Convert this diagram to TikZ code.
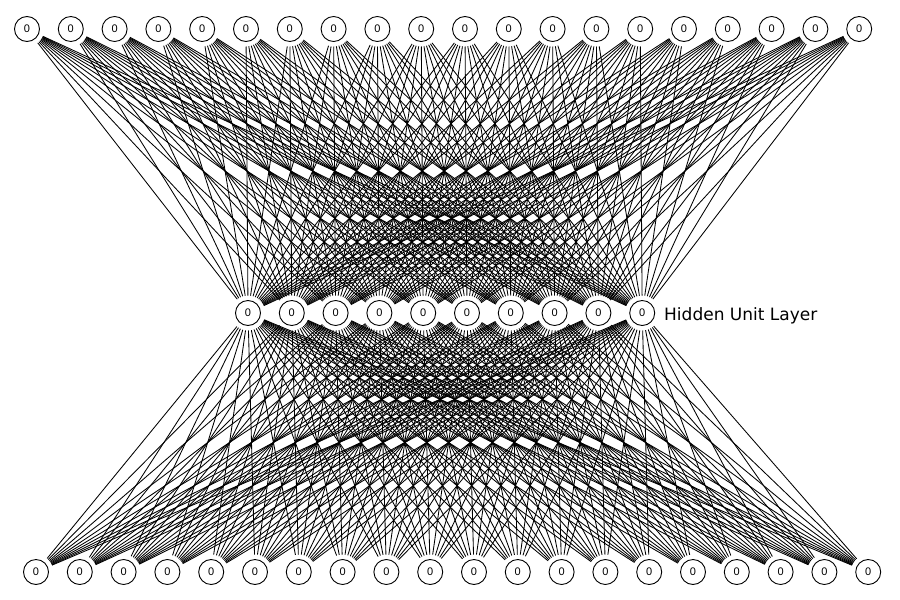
\documentclass[tikz,border=0pt]{standalone}
\usepackage{fontspec}
\setmainfont{Liberation Sans}
\newfontfamily\labelfont{DejaVu Sans}
\begin{document}
\begin{tikzpicture}[x=1pt,y=-1pt,
  unit/.style={circle,draw,fill=white,line width=0.9pt,minimum size=25pt,inner sep=0pt,outer sep=5pt,font=\fontsize{11}{11}\selectfont},
  conn/.style={line width=0.85pt}]
\useasboundingbox (0,0) rectangle (900,600);
\foreach \i in {1,...,20} {
  \node[unit] (t\i) at ({27+43.8*(\i-1)},29) {0};
  \node[unit] (b\i) at ({36+43.8*(\i-1)},572) {0};
}
\foreach \j in {1,...,10} {
  \node[unit] (h\j) at ({248+43.8*(\j-1)},313) {0};
}
\foreach \i in {1,...,20} {
  \foreach \j in {1,...,10} {
    \draw[conn] (t\i) -- (h\j);
    \draw[conn] (b\i) -- (h\j);
  }
}
\node[anchor=base west,inner sep=0pt,font=\labelfont\fontsize{17}{17}\selectfont] (lbl) at (664,320.5) {Hidden Unit Layer};
\end{tikzpicture}
\end{document}
